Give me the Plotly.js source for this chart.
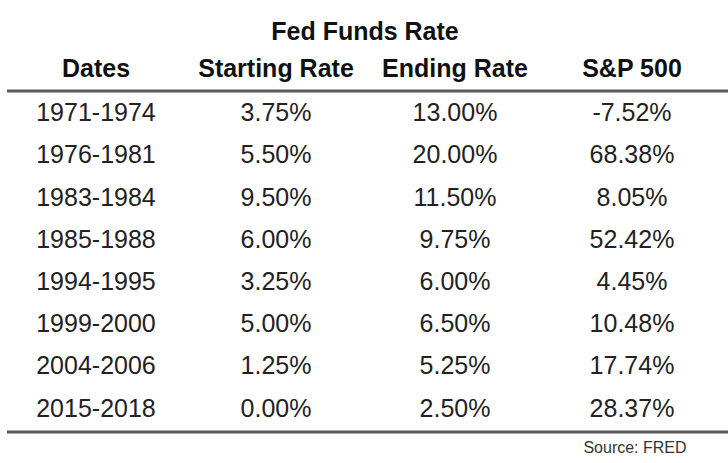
<!DOCTYPE html>
<html>
<head>
<meta charset="utf-8">
<script src="https://cdn.plot.ly/plotly-3.0.1.min.js"></script>
<style>html,body{margin:0;padding:0;background:#fff;}#chart{width:728px;height:463px;}</style>
</head>
<body>
<div id="chart"></div>
<script>
// ---- data ----
const groupTitle = "Fed Funds Rate";
const headers = ["Dates", "Starting Rate", "Ending Rate", "S&P 500"];
const dates = ["1971-1974","1976-1981","1983-1984","1985-1988","1994-1995","1999-2000","2004-2006","2015-2018"];
const startingRate = [3.75, 5.50, 9.50, 6.00, 3.25, 5.00, 1.25, 0.00];
const endingRate = [13.00, 20.00, 11.50, 9.75, 6.00, 6.50, 5.25, 2.50];
const sp500 = [-7.52, 68.38, 8.05, 52.42, 4.45, 10.48, 17.74, 28.37];
const sourceNote = "Source: FRED";

// ---- layout constants (pixel-based x axis, row-index y axis) ----
const colX = [96, 276, 455, 632];
const rowTop = 115, rowStep = 42.2, H = 463;
const rowIdx = dates.map((d, i) => i);
const pct = v => v.toFixed(2) + "%";
const font = "Liberation Sans, Arial, sans-serif";
const bodyFont = {family: font, size: 25, color: "#222"};
const headFont = {family: font, size: 25, color: "#111"};
const pxToRow = p => (p - rowTop) / rowStep;

const columns = [dates, startingRate.map(pct), endingRate.map(pct), sp500.map(pct)];
const traces = columns.map((col, c) => ({
  type: "scatter", mode: "text",
  x: col.map(() => colX[c]), y: rowIdx,
  text: col, textposition: "middle center",
  textfont: bodyFont, hoverinfo: "skip", showlegend: false
}));
traces.push({
  type: "scatter", mode: "text",
  x: colX, y: headers.map(() => pxToRow(70.5)),
  text: headers.map(h => "<b>" + h + "</b>"), textposition: "middle center",
  textfont: headFont, hoverinfo: "skip", showlegend: false
});
traces.push({
  type: "scatter", mode: "text",
  x: [365], y: [pxToRow(33.5)],
  text: ["<b>" + groupTitle + "</b>"], textposition: "middle center",
  textfont: headFont, hoverinfo: "skip", showlegend: false
});
traces.push({
  type: "scatter", mode: "text",
  x: [635], y: [pxToRow(448.5)],
  text: [sourceNote], textposition: "middle center",
  textfont: {family: font, size: 16, color: "#333"}, hoverinfo: "skip", showlegend: false
});

const layout = {
  width: 728, height: 463,
  margin: {l: 0, r: 0, t: 0, b: 0},
  paper_bgcolor: "#fff", plot_bgcolor: "#fff",
  xaxis: {range: [0, 728], visible: false, fixedrange: true},
  yaxis: {range: [pxToRow(H), pxToRow(0)], visible: false, fixedrange: true},
  shapes: [
    {type: "line", xref: "paper", yref: "y", x0: 0.0096, x1: 1, y0: pxToRow(91), y1: pxToRow(91), line: {color: "#5a5a5a", width: 3}},
    {type: "line", xref: "paper", yref: "y", x0: 0.0096, x1: 1, y0: pxToRow(432), y1: pxToRow(432), line: {color: "#5a5a5a", width: 3}}
  ]
};
Plotly.newPlot("chart", traces, layout, {displayModeBar: false, staticPlot: true});
</script>
</body>
</html>
